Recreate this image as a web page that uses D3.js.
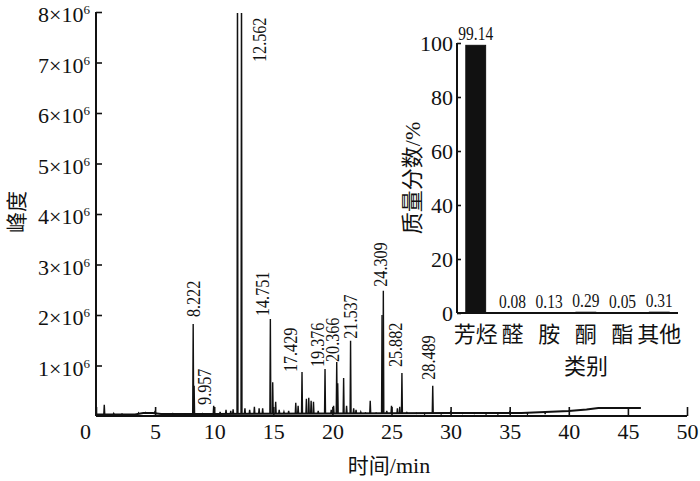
<!DOCTYPE html>
<html><head><meta charset="utf-8">
<script src="https://cdn.jsdelivr.net/npm/d3@7"></script>
<style>body{margin:0;background:#fff}svg{display:block}</style>
</head><body>
<svg id="c" width="700" height="481"></svg>
<script>
// ---------- data ----------
// chromatogram peaks: retention time (min) and abundance (×10^6)
const peakTimes   = [0.7, 1.5, 2.2, 3.6, 4.2, 5.0, 6.5, 7.5, 8.222, 8.3, 9.0, 9.957, 10.5, 11.0, 11.4, 11.6, 11.97, 12.31, 12.6, 13.0, 13.4, 13.8, 14.1, 14.751, 14.95, 15.2, 15.5, 15.9, 16.3, 16.9, 17.1, 17.429, 17.8, 18.0, 18.2, 18.4, 18.8, 19.376, 19.9, 20.1, 20.366, 20.45, 20.95, 21.2, 21.537, 21.8, 22.0, 22.4, 22.8, 23.2, 23.7, 24.2, 24.309, 24.6, 25.0, 25.5, 25.7, 25.882, 26.3, 27.1, 27.8, 28.489, 29.2, 30.0, 31.0, 32.0, 33.0, 34.0, 35.0, 36.5, 38.0];
const peakHeights = [0.22, 0.05, 0.04, 0.06, 0.07, 0.10, 0.05, 0.04, 1.82, 0.60, 0.05, 0.20, 0.08, 0.12, 0.10, 0.13, 9.0, 9.0, 0.15, 0.12, 0.18, 0.15, 0.15, 1.92, 0.67, 0.28, 0.12, 0.08, 0.10, 0.26, 0.20, 0.87, 0.34, 0.36, 0.30, 0.28, 0.10, 0.93, 0.12, 0.20, 1.07, 0.65, 0.75, 0.20, 1.49, 0.15, 0.12, 0.08, 0.06, 0.30, 0.06, 2.00, 2.48, 0.10, 0.20, 0.15, 0.18, 0.85, 0.07, 0.05, 0.04, 0.60, 0.04, 0.08, 0.05, 0.05, 0.04, 0.04, 0.08, 0.04, 0.04];
// baseline drift (×10^6)
const baseTimes  = [0, 3.3, 4.0, 4.8, 5.5, 10, 20, 30, 36, 38, 40, 41.5, 42.5, 46.1];
const baseValues = [0.03, 0.03, 0.06, 0.06, 0.04, 0.04, 0.05, 0.06, 0.06, 0.08, 0.10, 0.13, 0.16, 0.16];
// annotated retention times
const labelTexts = ["8.222", "9.957", "12.562", "14.751", "17.429", "19.376", "20.366", "21.537", "24.309", "25.882", "28.489"];
const xTicks = [0, 5, 10, 15, 20, 25, 30, 35, 40, 45, 50];
const yTicks = [1, 2, 3, 4, 5, 6, 7, 8];
// inset: mass fraction by class
const categories = ["芳烃", "醛", "胺", "酮", "酯", "其他"];
const massFractions = [99.14, 0.08, 0.13, 0.29, 0.05, 0.31];
const valueLabels = ["99.14", "0.08", "0.13", "0.29", "0.05", "0.31"];
const insetTicks = [0, 20, 40, 60, 80, 100];

// ---------- drawing ----------
const svg = d3.select("#c");
const SERIF = "'Liberation Serif','Times New Roman',serif";
const CJK = "'Noto Sans CJK SC','Noto Sans CJK JP',sans-serif";
const INK = "#111";

const x = d3.scaleLinear().domain([0, 50]).range([96, 687]);
const y = d3.scaleLinear().domain([0, 8]).range([416, 12]);
const base = d3.scaleLinear().domain(baseTimes).range(baseValues).clamp(true);

svg.append("defs").append("clipPath").attr("id", "clip")
  .append("rect").attr("x", 90).attr("y", y(8) + 1).attr("width", 610).attr("height", y(0) - y(8) + 10);

const g = svg.append("g").attr("clip-path", "url(#clip)");
// baseline trace
g.append("path")
  .datum(baseTimes.map((t, i) => [t, baseValues[i]]))
  .attr("d", d3.line().x(d => x(d[0])).y(d => y(d[1])))
  .attr("fill", "none").attr("stroke", INK).attr("stroke-width", 2);
// peaks
const hw = 0.04;
g.selectAll("path.peak").data(peakTimes.map((t, i) => ({t, h: peakHeights[i]})))
  .join("path").attr("class", "peak")
  .attr("d", d => d3.line()([[x(d.t - hw), y(base(d.t))], [x(d.t), y(d.h)], [x(d.t + hw), y(base(d.t))]]))
  .attr("fill", "none").attr("stroke", INK).attr("stroke-width", 1.4).attr("stroke-linejoin", "miter");

// axes
const xAxis = svg.append("g").attr("transform", `translate(0,${y(0)})`)
  .call(d3.axisBottom(x).tickValues(xTicks).tickSize(-9).tickSizeOuter(0).tickPadding(7));
const yAxis = svg.append("g").attr("transform", `translate(${x(0)},0)`)
  .call(d3.axisLeft(y).tickValues(yTicks).tickSize(-6).tickSizeOuter(0).tickPadding(6));
[xAxis, yAxis].forEach(a => {
  a.select(".domain").attr("stroke", INK).attr("stroke-width", 2);
  a.selectAll(".tick line").attr("stroke", INK).attr("stroke-width", 1.6);
  a.selectAll("text").attr("font-family", SERIF).attr("font-size", 22).attr("fill", INK);
});
yAxis.select(".domain").attr("d", `M0,${y(0)}V${y(8)}`);
xAxis.select(".domain").attr("d", `M${x(0)},0H${x(50)}`);
// the "0" label sits left of the y axis
xAxis.selectAll(".tick text").filter(d => d === 0).attr("dx", -11);
yAxis.selectAll("text").attr("dy", "0.45em").each(function(d) {
  const t = d3.select(this); t.text("");
  t.append("tspan").text(d + "×10");
  t.append("tspan").attr("font-size", 13).attr("dy", -8).text("6");
});

// peak labels
const labelAdjust = {
  "8.222": {dx: 0, gap: 7}, "9.957": {dx: -9, gap: 1}, "12.562": {dx: 15, bottom: 62},
  "14.751": {dx: -8, gap: 3}, "17.429": {dx: -12, gap: 0}, "19.376": {dx: -8, gap: 2},
  "20.366": {dx: -4, gap: 0}, "21.537": {dx: 0, gap: 2}, "24.309": {dx: -3, gap: 4},
  "25.882": {dx: -7, gap: 6}, "28.489": {dx: -4, gap: 6}
};
labelTexts.forEach(lbl => {
  const t = +lbl, a = labelAdjust[lbl];
  const idx = peakTimes.indexOf(t);
  const bottom = a.bottom !== undefined ? a.bottom : y(peakHeights[idx]) - a.gap;
  svg.append("text")
    .attr("transform", `translate(${x(t) + a.dx},${bottom}) rotate(-90) scale(0.85,1)`)
    .attr("dy", "0.35em")
    .attr("font-family", SERIF).attr("font-size", 19).attr("fill", INK)
    .text(lbl);
});

// axis titles
const xt = svg.append("text").attr("x", 389).attr("y", 473).attr("text-anchor", "middle").attr("fill", INK).attr("font-size", 21);
xt.append("tspan").attr("font-family", CJK).text("时间");
xt.append("tspan").attr("font-family", SERIF).attr("font-size", 22).text("/min");
svg.append("text").attr("transform", "translate(24,212) rotate(-90)")
  .attr("text-anchor", "middle").attr("font-family", CJK).attr("font-size", 21).attr("fill", INK).text("峰度");

// ---------- inset ----------
const bx = d3.scaleBand().domain(categories).range([457, 678]).paddingInner(0.46).paddingOuter(0.24);
const by = d3.scaleLinear().domain([0, 100]).range([313, 43]);
const ins = svg.append("g");
ins.selectAll("rect").data(categories.map((c, i) => ({c, v: massFractions[i]})))
  .join("rect")
  .attr("x", d => bx(d.c)).attr("width", bx.bandwidth())
  .attr("y", d => by(d.v)).attr("height", d => by(0) - by(d.v))
  .attr("fill", INK).attr("stroke", INK).attr("stroke-width", 1);
ins.selectAll("text.val").data(categories.map((c, i) => ({c, v: massFractions[i], l: valueLabels[i]})))
  .join("text").attr("class", "val")
  .attr("transform", d => `translate(${bx(d.c) + bx.bandwidth() / 2},${by(d.v) - 5}) scale(0.86,1)`)
  .attr("text-anchor", "middle").attr("font-family", SERIF).attr("font-size", 18).attr("fill", INK)
  .text(d => d.l);
const iy = ins.append("g").attr("transform", `translate(457,0)`)
  .call(d3.axisLeft(by).tickValues(insetTicks).tickSize(-4).tickSizeOuter(0).tickPadding(4));
const ix = ins.append("g").attr("transform", `translate(0,313)`)
  .call(d3.axisBottom(bx).tickSize(0).tickPadding(21));
[iy, ix].forEach(a => {
  a.select(".domain").attr("stroke", INK).attr("stroke-width", 2);
  a.selectAll(".tick line").attr("stroke", INK).attr("stroke-width", 1.6);
});
iy.selectAll("text").attr("font-family", SERIF).attr("font-size", 22).attr("fill", INK).attr("dy", "0.36em");
ix.selectAll("text").attr("font-family", CJK).attr("font-size", 22).attr("fill", INK).attr("dy", "0.35em").attr("dominant-baseline", "auto");
ix.select(".domain").attr("d", "M457,0H678");
iy.select(".domain").attr("d", `M0,${by(0)}V${by(100)}`);

const it = svg.append("text").attr("transform", "translate(412,178) rotate(-90)").attr("dy", "0.35em")
  .attr("text-anchor", "middle").attr("fill", INK).attr("font-size", 22);
it.append("tspan").attr("font-family", CJK).text("质量分数");
it.append("tspan").attr("font-family", SERIF).text("/%");
svg.append("text").attr("x", 586).attr("y", 366).attr("dy", "0.35em").attr("text-anchor", "middle")
  .attr("font-family", CJK).attr("font-size", 22).attr("fill", INK).text("类别");
</script>
</body></html>
